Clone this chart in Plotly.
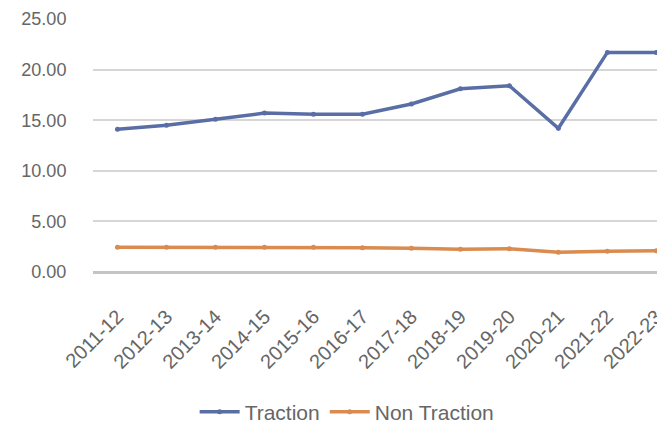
import plotly.graph_objects as go

years = ["2011-12", "2012-13", "2013-14", "2014-15", "2015-16", "2016-17",
         "2017-18", "2018-19", "2019-20", "2020-21", "2021-22", "2022-23"]
traction = [14.1, 14.5, 15.1, 15.7, 15.6, 15.6, 16.6, 18.1, 18.4, 14.2, 21.7, 21.7]
non_traction = [2.45, 2.45, 2.45, 2.45, 2.45, 2.4, 2.35, 2.25, 2.3, 1.95, 2.05, 2.1]
y_ticks = [0, 5, 10, 15, 20, 25]
y_tick_labels = ["0.00", "5.00", "10.00", "15.00", "20.00", "25.00"]

fig = go.Figure()
fig.add_trace(go.Scatter(
    x=years, y=traction, name="Traction", mode="lines+markers",
    line=dict(color="#5a6ea6", width=3.5),
    marker=dict(color="#5a6ea6", size=5, symbol="circle"),
))
fig.add_trace(go.Scatter(
    x=years, y=non_traction, name="Non Traction", mode="lines+markers",
    line=dict(color="#d98b50", width=3.5),
    marker=dict(color="#d98b50", size=5, symbol="circle"),
))

fig.update_layout(
    width=665, height=430,
    margin=dict(l=85, r=0, t=11, b=166),
    paper_bgcolor="white", plot_bgcolor="white",
    font=dict(family="Liberation Sans, Arial, sans-serif", color="#666666", size=20),
    showlegend=True,
    legend=dict(
        orientation="h", xref="container", yref="container",
        x=0.51, xanchor="center", y=0.06, yanchor="middle",
        font=dict(size=21, color="#666666"), itemwidth=40,
        tracegroupgap=0,
    ),
    xaxis=dict(
        type="category", range=[-0.5, 11.34],
        tickangle=-45, showgrid=False, zeroline=False,
        showline=False,
        ticks="outside", ticklen=24, tickcolor="rgba(0,0,0,0)",
        tickfont=dict(size=20, color="#666666"),
    ),
    yaxis=dict(
        range=[0, 25], tickvals=y_ticks, ticktext=y_tick_labels,
        showgrid=True, gridcolor="#d6d6d6", gridwidth=1.5,
        zeroline=True, zerolinecolor="#c4c4c4", zerolinewidth=3,
        ticks="outside", ticklen=22, tickcolor="rgba(0,0,0,0)",
        tickfont=dict(size=18, color="#666666"),
    ),
)

fig.write_html("out.html")
